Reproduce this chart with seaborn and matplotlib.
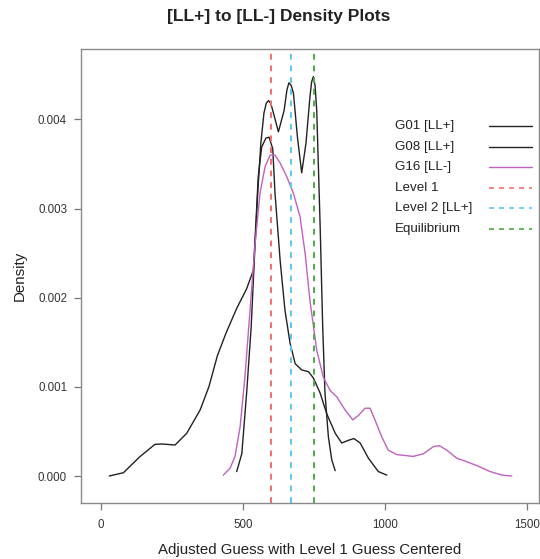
import matplotlib
matplotlib.use("Agg")
import matplotlib.pyplot as plt
import pandas as pd
import seaborn as sns

# density curves
g01_x = [29, 79, 137, 190, 214, 261, 302, 349, 380, 410, 440, 478, 513, 537, 545, 554, 566,
         581, 592, 605, 613, 631, 648, 666, 684, 707, 731, 748, 772, 795, 825, 848, 871,
         891, 913, 942, 977, 1007]
g01_y = [0.0, 0.000037, 0.000217, 0.000355, 0.000359, 0.000348, 0.000479, 0.00074, 0.00100,
         0.00135, 0.00160, 0.00188, 0.00210, 0.00231, 0.0028, 0.00336, 0.00369, 0.00379,
         0.0038, 0.00367, 0.00317, 0.00242, 0.00186, 0.00149, 0.00126, 0.00119, 0.00117,
         0.0011, 0.00093, 0.0007, 0.00048, 0.00037, 0.0004, 0.00042, 0.00037, 0.0002,
         0.00005, 0.00001]

g08_x = [478, 496, 513, 529, 540, 552, 563, 574, 582, 590, 598, 605, 625, 645, 655, 662,
         670, 678, 692, 707, 722, 736, 742, 748, 754, 760, 772, 781, 789, 801, 813, 825]
g08_y = [0.00005, 0.00025, 0.00093, 0.00167, 0.00242, 0.00317, 0.00373, 0.00407, 0.00418,
         0.00421, 0.00418, 0.0041, 0.00386, 0.0041, 0.00433, 0.00441, 0.00438, 0.00429,
         0.0038, 0.0034, 0.00373, 0.00425, 0.00442, 0.00448, 0.00438, 0.0041, 0.0028,
         0.00167, 0.00093, 0.00044, 0.00018, 0.00006]

g16_x = [431, 455, 472, 490, 507, 525, 543, 560, 578, 596, 613, 631, 654, 678, 701, 719,
         736, 760, 783, 807, 830, 860, 887, 907, 930, 948, 965, 989, 1012, 1042, 1100,
         1136, 1171, 1192, 1218, 1253, 1289, 1329, 1371, 1412, 1447]
g16_y = [0.00001, 0.00009, 0.00022, 0.00055, 0.00111, 0.00186, 0.00261, 0.00317, 0.00347,
         0.0036, 0.0036, 0.00351, 0.00336, 0.00317, 0.00291, 0.0025, 0.00197, 0.00141,
         0.00111, 0.00096, 0.00089, 0.00074, 0.00063, 0.00068, 0.00076, 0.00076, 0.00063,
         0.00044, 0.00029, 0.00024, 0.00022, 0.00025, 0.00033, 0.00034, 0.00029, 0.0002,
         0.00016, 0.00011, 0.00005, 0.00001, 0.0]

ref_names = ["Level 1", "Level 2 [LL+]", "Equilibrium"]
ref_values = [600, 670, 750]
ref_colors = ["#F26F6F", "#5CC6F2", "#4DAA45"]

curve_names = ["G01 [LL+]", "G08 [LL+]", "G16 [LL-]"]
curve_colors = ["#222222", "#222222", "#C060C0"]

x_ticks = [0, 500, 1000, 1500]
y_ticks = [0.000, 0.001, 0.002, 0.003, 0.004]

df = pd.concat([
    pd.DataFrame({"x": g01_x, "y": g01_y, "group": curve_names[0]}),
    pd.DataFrame({"x": g08_x, "y": g08_y, "group": curve_names[1]}),
    pd.DataFrame({"x": g16_x, "y": g16_y, "group": curve_names[2]}),
])

sns.set_style("white")
plt.rcParams["font.family"] = ["Liberation Sans", "DejaVu Sans"]

fig = plt.figure(figsize=(5.4, 5.59), dpi=100)
ax = fig.add_axes([81 / 540, 55.7 / 559, 458 / 540, 454.3 / 559])

for name, col in zip(curve_names, curve_colors):
    sns.lineplot(data=df[df["group"] == name], x="x", y="y", color=col, lw=1.0,
                 estimator=None, sort=False, ax=ax, legend=False)

for v, col in zip(ref_values, ref_colors):
    ax.axvline(v, color=col, ls=(0, (3, 3)), lw=1.4)

ax.set_xlim(-70.5, 1543)
ax.set_ylim(-0.000306, 0.004789)
ax.set_xticks(x_ticks)
ax.set_xticklabels([str(t) for t in x_ticks])
ax.set_yticks(y_ticks)
ax.set_yticklabels([f"{t:.3f}" for t in y_ticks])
ax.tick_params(axis="both", length=5, width=0.9, color="#777777", labelsize=8.3,
               labelcolor="#333333", direction="out", bottom=True, left=True)
ax.tick_params(axis="x", pad=6)
ax.tick_params(axis="y", pad=5)
for s in ax.spines.values():
    s.set_color("#8a8a8a")
    s.set_linewidth(1.0)

ax.set_xlabel("Adjusted Guess with Level 1 Guess Centered", fontsize=10.8,
              color="#222222", labelpad=9)
ax.set_ylabel("Density", fontsize=10.8, color="#222222", labelpad=8)

fig.text(279 / 540, 1 - 16 / 559, "[LL+] to [LL-] Density Plots", ha="center",
         va="center", fontsize=12.5, fontweight="bold", color="#222222")

# legend drawn by hand: text on the left, line sample on the right, no frame
leg_names = curve_names + ref_names
leg_colors = curve_colors + ref_colors
leg_styles = ["-", "-", "-", (0, (3, 3)), (0, (3, 3)), (0, (3, 3))]
for i, (name, col, st) in enumerate(zip(leg_names, leg_colors, leg_styles)):
    yy = 0.8305 - i * 0.04535
    ax.text(0.6856, yy, name, transform=ax.transAxes, fontsize=9.6, va="center",
            ha="left", color="#222222")
    ax.plot([0.891, 0.985], [yy, yy], transform=ax.transAxes, color=col, ls=st,
            lw=1.2 if i > 2 else 1.0)

fig.savefig("out.png", dpi=100)
